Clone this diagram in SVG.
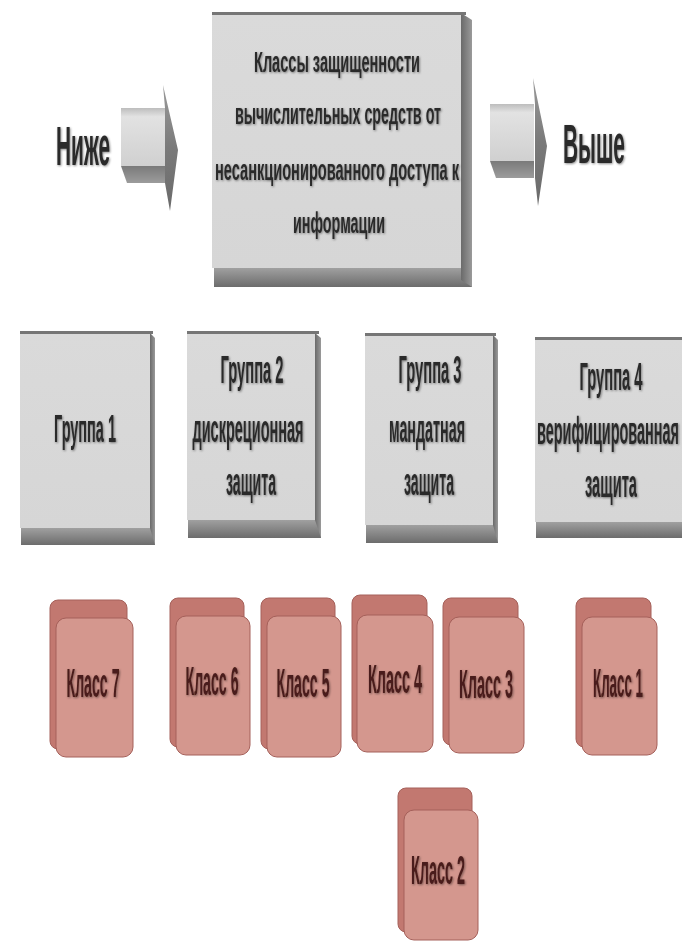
<svg xmlns="http://www.w3.org/2000/svg" width="682" height="941" viewBox="0 0 682 941">
<defs>
<linearGradient id="gBottom" x1="0" y1="0" x2="0" y2="1">
<stop offset="0" stop-color="#a0a0a0"/><stop offset="1" stop-color="#6c6c6c"/>
</linearGradient>
<linearGradient id="gSide" x1="0" y1="0" x2="1" y2="0">
<stop offset="0" stop-color="#6a6a6a"/><stop offset="1" stop-color="#9a9a9a"/>
</linearGradient>
<linearGradient id="gShaft" x1="0" y1="0" x2="0" y2="1">
<stop offset="0" stop-color="#bdbdbd"/><stop offset="0.15" stop-color="#e2e2e2"/><stop offset="1" stop-color="#d0d0d0"/>
</linearGradient>
<linearGradient id="gShaftDark" x1="0" y1="0" x2="0" y2="1">
<stop offset="0" stop-color="#7a7a7a"/><stop offset="1" stop-color="#9c9c9c"/>
</linearGradient>
<linearGradient id="gHead" x1="0" y1="0" x2="0" y2="1">
<stop offset="0" stop-color="#9a9a9a"/><stop offset="0.5" stop-color="#7a7a7a"/><stop offset="1" stop-color="#6a6a6a"/>
</linearGradient>
<linearGradient id="gFace" x1="0" y1="0" x2="0" y2="1">
<stop offset="0" stop-color="#dadada"/><stop offset="1" stop-color="#d6d6d6"/>
</linearGradient>
<filter id="ts" x="-10%" y="-30%" width="120%" height="160%">
<feDropShadow dx="0.8" dy="1" stdDeviation="0.9" flood-color="#000" flood-opacity="0.45"/>
</filter>
</defs>
<style>
.face{fill:url(#gFace)}
.top{fill:#767676}
.side{fill:url(#gSide)}
.bot{fill:url(#gBottom)}
.gt{font-family:"Liberation Sans Narrow","Liberation Sans",Arial,sans-serif;font-weight:bold;fill:#2b2b2b;text-anchor:middle;filter:url(#ts)}
.big{font-size:56px}
.mid{font-size:30px}
.grp{font-size:38px}
.cb{fill:#c27870;stroke:#a5605a;stroke-width:1}
.cf{fill:#d4978e;stroke:#a5605a;stroke-width:1}
.ct{font-family:"Liberation Sans Narrow","Liberation Sans",Arial,sans-serif;font-weight:bold;font-size:40px;fill:#4a1c1a;text-anchor:middle;filter:url(#ts)}
.ahead{fill:url(#gHead)}
.shaft{fill:url(#gShaft)}
.shaftd{fill:url(#gShaftDark)}
</style>

<g id="connectors">
<g id="arrow-left">
<rect class="shaft" x="121" y="108" width="44" height="58"/>
<polygon class="shaftd" points="121,166 165,166 165,183 127,183"/>
<polygon class="ahead" points="163,85 178,150 170,211 165,183 165,108"/>
</g>
<g id="arrow-right">
<rect class="shaft" x="490" y="104" width="44" height="57"/>
<polygon class="shaftd" points="490,161 534,161 534,178 496,178"/>
<polygon class="ahead" points="533,78 547,146 538,206 535,178 535,104"/>
</g>
</g>

<g id="label-low">
<text class="gt big" x="83" y="165" textLength="54" lengthAdjust="spacingAndGlyphs">Ниже</text>
</g>
<g id="label-high">
<text class="gt big" x="594" y="163" textLength="62" lengthAdjust="spacingAndGlyphs">Выше</text>
</g>

<g id="main">
<rect class="bot" x="214" y="268" width="258" height="19"/>
<polygon class="side" points="461,13 472,20 472,287 461,280"/>
<rect class="face" x="212" y="14" width="249" height="254"/>
<rect class="top" x="212" y="12" width="254" height="3"/>
<text class="gt mid" x="337" y="72" textLength="166" lengthAdjust="spacingAndGlyphs">Классы защищенности</text>
<text class="gt mid" x="338" y="124" textLength="206" lengthAdjust="spacingAndGlyphs">вычислительных средств от</text>
<text class="gt mid" x="337" y="180" textLength="244" lengthAdjust="spacingAndGlyphs">несанкционированного доступа к</text>
<text class="gt mid" x="339" y="233" textLength="92" lengthAdjust="spacingAndGlyphs">информации</text>
</g>

<g id="group1">
<rect class="bot" x="21" y="528" width="134" height="17"/>
<polygon class="side" points="150,333 155,338 155,545 150,528"/>
<rect class="face" x="20" y="333" width="130" height="195"/>
<rect class="top" x="20" y="331" width="133" height="3"/>
<text class="gt grp" x="85" y="442" textLength="62" lengthAdjust="spacingAndGlyphs">Группа 1</text>
</g>

<g id="group2">
<rect class="bot" x="188" y="520" width="133" height="18"/>
<polygon class="side" points="315,333 321,338 321,538 315,520"/>
<rect class="face" x="187" y="333" width="128" height="187"/>
<rect class="top" x="187" y="331" width="132" height="3"/>
<text class="gt grp" x="252" y="383" textLength="63" lengthAdjust="spacingAndGlyphs">Группа 2</text>
<text class="gt grp" x="248" y="442" textLength="111" lengthAdjust="spacingAndGlyphs">дискреционная</text>
<text class="gt grp" x="251" y="495" textLength="50" lengthAdjust="spacingAndGlyphs">защита</text>
</g>

<g id="group3">
<rect class="bot" x="366" y="525" width="132" height="18"/>
<polygon class="side" points="493,335 498,340 498,543 493,525"/>
<rect class="face" x="365" y="335" width="128" height="190"/>
<rect class="top" x="365" y="333" width="131" height="3"/>
<text class="gt grp" x="430" y="383" textLength="63" lengthAdjust="spacingAndGlyphs">Группа 3</text>
<text class="gt grp" x="427" y="442" textLength="76" lengthAdjust="spacingAndGlyphs">мандатная</text>
<text class="gt grp" x="429" y="495" textLength="50" lengthAdjust="spacingAndGlyphs">защита</text>
</g>

<g id="group4">
<rect class="bot" x="536" y="522" width="146" height="16"/>
<rect class="face" x="535" y="339" width="147" height="183"/>
<rect class="top" x="535" y="337" width="147" height="3"/>
<text class="gt grp" x="611" y="390" textLength="63" lengthAdjust="spacingAndGlyphs">Группа 4</text>
<text class="gt grp" x="608" y="444" textLength="142" lengthAdjust="spacingAndGlyphs">верифицированная</text>
<text class="gt grp" x="611" y="497" textLength="52" lengthAdjust="spacingAndGlyphs">защита</text>
</g>

<g id="class7">
<rect class="cb" x="50" y="600" width="77" height="149" rx="8"/>
<rect class="cf" x="56" y="618" width="77" height="139" rx="10"/>
<text class="ct" x="93" y="697" textLength="53" lengthAdjust="spacingAndGlyphs">Класс 7</text>
</g>
<g id="class6">
<rect class="cb" x="170" y="598" width="74" height="149" rx="8"/>
<rect class="cf" x="176" y="616" width="74" height="139" rx="10"/>
<text class="ct" x="212" y="695" textLength="53" lengthAdjust="spacingAndGlyphs">Класс 6</text>
</g>
<g id="class5">
<rect class="cb" x="261" y="598" width="74" height="151" rx="8"/>
<rect class="cf" x="267" y="616" width="74" height="141" rx="10"/>
<text class="ct" x="303" y="697" textLength="53" lengthAdjust="spacingAndGlyphs">Класс 5</text>
</g>
<g id="class4">
<rect class="cb" x="352" y="595" width="75" height="149" rx="8"/>
<rect class="cf" x="357" y="615" width="76" height="137" rx="10"/>
<text class="ct" x="395" y="693" textLength="54" lengthAdjust="spacingAndGlyphs">Класс 4</text>
</g>
<g id="class3">
<rect class="cb" x="443" y="598" width="75" height="147" rx="8"/>
<rect class="cf" x="449" y="617" width="75" height="136" rx="10"/>
<text class="ct" x="486" y="698" textLength="54" lengthAdjust="spacingAndGlyphs">Класс 3</text>
</g>
<g id="class1">
<rect class="cb" x="576" y="598" width="75" height="149" rx="8"/>
<rect class="cf" x="582" y="617" width="75" height="138" rx="10"/>
<text class="ct" x="618" y="697" textLength="50" lengthAdjust="spacingAndGlyphs">Класс 1</text>
</g>
<g id="class2">
<rect class="cb" x="398" y="788" width="74" height="144" rx="8"/>
<rect class="cf" x="404" y="810" width="74" height="130" rx="10"/>
<text class="ct" x="438" y="884" textLength="54" lengthAdjust="spacingAndGlyphs">Класс 2</text>
</g>
</svg>
